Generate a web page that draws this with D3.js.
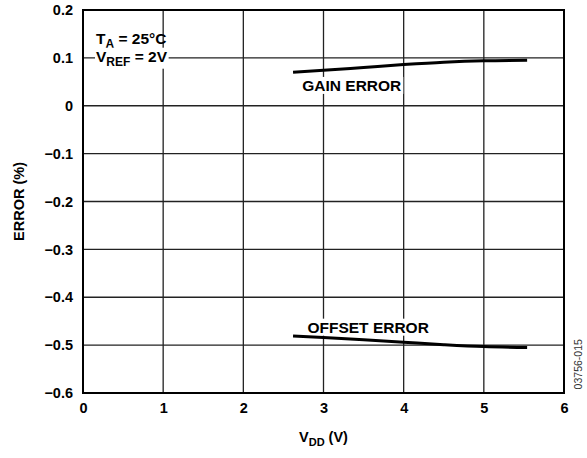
<!DOCTYPE html>
<html lang="en">
<head>
  <meta charset="UTF-8">
  <title>Error vs VDD</title>
  <script src="https://d3js.org/d3.v7.min.js"></script>
  <style>
    body { margin: 0; background: white; }
    svg { font-family: Arial, "Liberation Sans", sans-serif; }
    .tick text { font-weight: bold; font-size: 14.5px; fill: black; }
  </style>
</head>
<body>
<svg id="chart" width="587" height="458"></svg>
<script>
  const xTicks = [0, 1, 2, 3, 4, 5, 6];
  const yTicks = [0.2, 0.1, 0, -0.1, -0.2, -0.3, -0.4, -0.5, -0.6];

  const gainVdd = [2.62, 3.0, 3.5, 4.0, 4.5, 5.0, 5.54];
  const gainErr = [0.070, 0.074, 0.080, 0.086, 0.091, 0.094, 0.095];
  const offsetVdd = [2.62, 3.0, 3.5, 4.0, 4.5, 5.0, 5.54];
  const offsetErr = [-0.481, -0.484, -0.489, -0.494, -0.499, -0.503, -0.505];

  const svg = d3.select("#chart");
  const margin = {top: 10, left: 83, right: 23, bottom: 65};
  const width = 587 - margin.left - margin.right,
        height = 458 - margin.top - margin.bottom;

  const x = d3.scaleLinear().domain([0, 6]).range([0, width]);
  const y = d3.scaleLinear().domain([-0.6, 0.2]).range([height, 0]);

  const g = svg.append("g").attr("transform", `translate(${margin.left},${margin.top})`);

  // grid
  g.selectAll("line.vg").data(xTicks).enter().append("line")
    .attr("x1", d => x(d)).attr("x2", d => x(d))
    .attr("y1", 0).attr("y2", height)
    .attr("stroke", "#222").attr("stroke-width", 1.3);
  g.selectAll("line.hg").data(yTicks).enter().append("line")
    .attr("y1", d => y(d)).attr("y2", d => y(d))
    .attr("x1", 0).attr("x2", width)
    .attr("stroke", "#222").attr("stroke-width", 1.3);

  g.append("rect").attr("width", width).attr("height", height)
    .attr("fill", "none").attr("stroke", "black").attr("stroke-width", 2);

  const fmt = d => d < 0 ? "\u2212" + Math.abs(d).toFixed(1) : (d === 0 ? "0" : d.toFixed(1));

  const yAxis = g.append("g").call(d3.axisLeft(y).tickValues(yTicks).tickFormat(fmt).tickSize(0).tickPadding(10));
  yAxis.select(".domain").remove();
  const xAxis = g.append("g").attr("transform", `translate(0,${height})`)
    .call(d3.axisBottom(x).tickValues(xTicks).tickFormat(d3.format("d")).tickSize(0).tickPadding(10));
  xAxis.select(".domain").remove();

  // labels with white backing
  function label(txt, px, py) {
    const t = g.append("text").attr("x", px).attr("y", py)
      .attr("font-size", 15.5).attr("font-weight", "bold").text(txt);
    const b = t.node().getBBox();
    g.insert("rect", () => t.node()).attr("x", b.x - 2).attr("y", b.y).attr("width", b.width + 4)
      .attr("height", b.height).attr("fill", "white");
  }
  label("GAIN ERROR", x(2.735), y(0.031));
  label("OFFSET ERROR", x(2.80), y(-0.474));

  const line = d3.line().curve(d3.curveMonotoneX);
  g.append("path").datum(gainVdd.map((v, i) => [x(v), y(gainErr[i])]))
    .attr("d", line).attr("fill", "none").attr("stroke", "black").attr("stroke-width", 3);
  g.append("path").datum(offsetVdd.map((v, i) => [x(v), y(offsetErr[i])]))
    .attr("d", line).attr("fill", "none").attr("stroke", "black").attr("stroke-width", 3);

  // conditions
  const cond = g.append("g").attr("font-size", 15.5).attr("font-weight", "bold");
  const t1 = cond.append("text").attr("x", 13).attr("y", y(0.129));
  t1.append("tspan").text("T");
  t1.append("tspan").attr("font-size", 12).attr("dy", 4).text("A");
  t1.append("tspan").attr("dy", -4).text(" = 25\u00B0C");
  const t2 = cond.append("text").attr("x", 13).attr("y", y(0.092));
  t2.append("tspan").text("V");
  t2.append("tspan").attr("font-size", 12).attr("dy", 4).text("REF");
  t2.append("tspan").attr("dy", -4).text(" = 2V");
  const b2 = t2.node().getBBox();
  cond.insert("rect", () => t2.node()).attr("x", b2.x - 1).attr("y", b2.y).attr("width", b2.width + 2)
    .attr("height", b2.height).attr("fill", "white");

  // axis titles
  const xt = svg.append("text").attr("x", margin.left + x(3)).attr("y", 442)
    .attr("text-anchor", "middle").attr("font-size", 14.5).attr("font-weight", "bold");
  xt.append("tspan").text("V");
  xt.append("tspan").attr("font-size", 11).attr("dy", 4).text("DD");
  xt.append("tspan").attr("dy", -4).text(" (V)");

  svg.append("text").attr("transform", `translate(24,${margin.top + height / 2}) rotate(-90)`)
    .attr("text-anchor", "middle").attr("font-size", 14.5).attr("font-weight", "bold").text("ERROR (%)");

  svg.append("text").attr("transform", `translate(582,${margin.top + y(-0.54)}) rotate(-90)`)
    .attr("text-anchor", "middle").attr("font-size", 10.5).attr("fill", "#333").text("03756-015");
</script>
</body>
</html>
